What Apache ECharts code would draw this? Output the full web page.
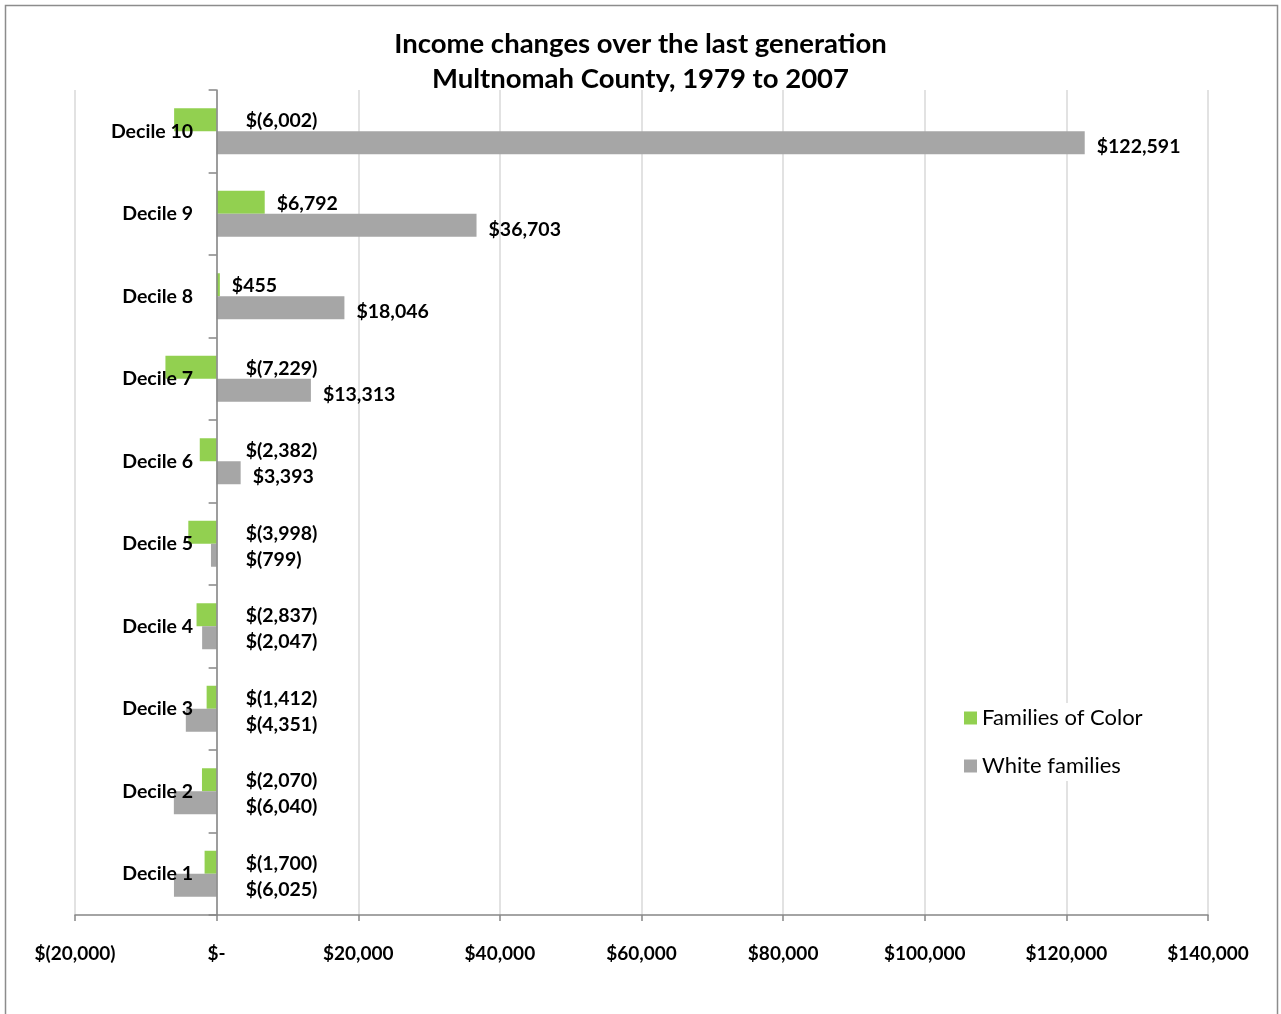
<!DOCTYPE html>
<html>
<head>
<meta charset="utf-8">
<script src="https://cdn.jsdelivr.net/npm/echarts@6/dist/echarts.min.js"></script>
<style>
  html, body { margin: 0; padding: 0; background: #fff; }
  #chart { width: 1281px; height: 1014px; }
</style>
</head>
<body>
<div id="chart"></div>
<script>
const categories = ['Decile 1', 'Decile 2', 'Decile 3', 'Decile 4', 'Decile 5',
  'Decile 6', 'Decile 7', 'Decile 8', 'Decile 9', 'Decile 10']
const familiesOfColor = [-1700, -2070, -1412, -2837, -3998, -2382, -7229, 455, 6792, -6002]
const whiteFamilies = [-6025, -6040, -4351, -2047, -799, 3393, 13313, 18046, 36703, 122591]
const xTicks = { min: -20000, max: 140000, step: 20000 }

const FONT = 'Lato, "Open Sans", sans-serif'

// Excel accounting style: $(1,234) for negatives, $- for zero
function money(v) {
  if (v === 0) return '$-'
  const s = Math.abs(v).toLocaleString('en-US')
  return v < 0 ? '$(' + s + ')' : '$' + s
}

function barData(values, dy) {
  return values.map(v => ({
    value: v,
    label: {
      distance: v < 0 ? 29 : 12,
      offset: [0, dy]
    }
  }))
}

const labelStyle = {
  show: true,
  position: 'right',
  color: '#000',
  fontFamily: FONT,
  fontWeight: 'bold',
  fontSize: 19.5,
  formatter: p => money(p.value)
}

const option = {
  animation: false,
  backgroundColor: '#fff',
  textStyle: { fontFamily: FONT },
  graphic: [{
    type: 'rect',
    shape: { x: 5.5, y: 5.5, width: 1272, height: 1020 },
    style: { fill: 'none', stroke: '#8c8c8c', lineWidth: 1.5 },
    silent: true
  }],
  title: {
    text: 'Income changes over the last generation\nMultnomah County, 1979 to 2007',
    left: 'center',
    top: 22,
    textStyle: {
      fontFamily: FONT,
      fontWeight: 'bold',
      fontSize: 27.5,
      lineHeight: 35,
      color: '#000'
    }
  },
  legend: {
    orient: 'vertical',
    left: 958,
    top: 703,
    icon: 'rect',
    itemWidth: 13,
    itemHeight: 13,
    itemGap: 26,
    padding: [4, 6],
    backgroundColor: '#fff',
    textStyle: { fontFamily: FONT, fontSize: 22, color: '#000' },
    data: ['Families of Color', 'White families']
  },
  grid: {
    left: 75,
    right: 73,
    top: 90,
    bottom: 99,
    containLabel: false,
    outerBoundsMode: 'none'
  },
  xAxis: {
    type: 'value',
    min: xTicks.min,
    max: xTicks.max,
    interval: xTicks.step,
    axisLine: { show: true, lineStyle: { color: '#868686', width: 1.5 } },
    axisTick: { show: true, length: 6, lineStyle: { color: '#868686', width: 1.5 } },
    splitLine: { show: true, lineStyle: { color: '#d9d9d9', width: 1.5 } },
    axisLabel: {
      margin: 29,
      color: '#000',
      fontFamily: FONT,
      fontWeight: 'bold',
      fontSize: 19,
      formatter: v => money(v)
    }
  },
  yAxis: {
    type: 'category',
    data: categories,
    z: 10,
    axisLine: { show: true, onZero: true, lineStyle: { color: '#868686', width: 1.5 } },
    axisTick: { show: true, length: 8, lineStyle: { color: '#868686', width: 1.5 } },
    splitLine: { show: false },
    axisLabel: {
      // labels stay at the grid edge, so pull them over to the zero line
      margin: -118,
      color: '#000',
      fontFamily: FONT,
      fontWeight: 'bold',
      fontSize: 19.5
    }
  },
  series: [
    {
      name: 'Families of Color',
      type: 'bar',
      barWidth: 23,
      barGap: '0%',
      itemStyle: { color: '#92d050' },
      label: labelStyle,
      data: barData(familiesOfColor, 1)
    },
    {
      name: 'White families',
      type: 'bar',
      barWidth: 23,
      barGap: '0%',
      itemStyle: { color: '#a6a6a6' },
      label: labelStyle,
      data: barData(whiteFamilies, 4)
    }
  ]
}

const myChart = echarts.init(document.getElementById('chart'))
myChart.setOption(option)
</script>
</body>
</html>
